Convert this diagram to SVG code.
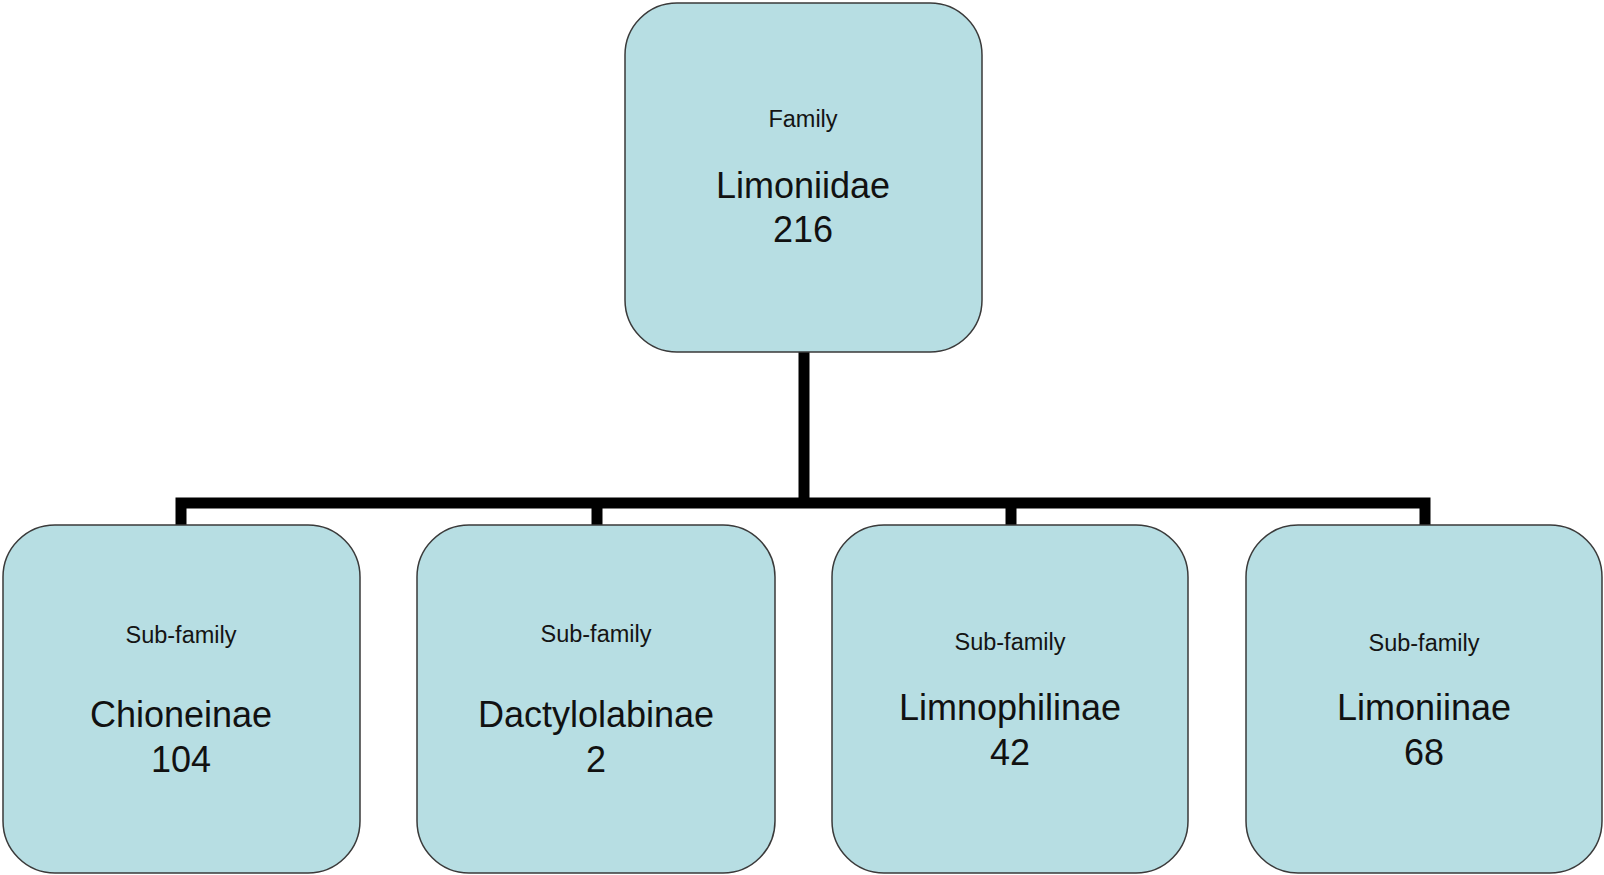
<svg xmlns="http://www.w3.org/2000/svg" width="1604" height="875" viewBox="0 0 1604 875">
<style>
.box{fill:#b7dee3;stroke:#3a3a3a;stroke-width:1.5}
.small{font-family:"Liberation Sans",Arial,sans-serif;font-size:23.5px;fill:#141414;text-anchor:middle}
.big{font-family:"Liberation Sans",Arial,sans-serif;font-size:36px;fill:#111;text-anchor:middle}
.conn{fill:none;stroke:#000;stroke-width:11;stroke-linejoin:miter;stroke-linecap:butt}
</style>
<rect width="1604" height="875" fill="#fff"/>
<g id="connectors">
<path class="conn" d="M804 352 V503"/>
<path class="conn" d="M181 525 V503 H1425 V525"/>
<path class="conn" d="M597 503 V525"/>
<path class="conn" d="M1011 503 V525"/>
</g>
<g id="family">
<rect class="box" x="625" y="3" width="357" height="349" rx="52" ry="52"/>
<text class="small" x="803" y="127">Family</text>
<text class="big" x="803" y="198">Limoniidae</text>
<text class="big" x="803" y="242">216</text>
</g>
<g id="chioneinae">
<rect class="box" x="3" y="525" width="357" height="348" rx="52" ry="52"/>
<text class="small" x="181" y="643">Sub-family</text>
<text class="big" x="181" y="727">Chioneinae</text>
<text class="big" x="181" y="772">104</text>
</g>
<g id="dactylolabinae">
<rect class="box" x="417" y="525" width="358" height="348" rx="52" ry="52"/>
<text class="small" x="596" y="642">Sub-family</text>
<text class="big" x="596" y="727">Dactylolabinae</text>
<text class="big" x="596" y="772">2</text>
</g>
<g id="limnophilinae">
<rect class="box" x="832" y="525" width="356" height="348" rx="52" ry="52"/>
<text class="small" x="1010" y="650">Sub-family</text>
<text class="big" x="1010" y="720">Limnophilinae</text>
<text class="big" x="1010" y="765">42</text>
</g>
<g id="limoniinae">
<rect class="box" x="1246" y="525" width="356" height="348" rx="52" ry="52"/>
<text class="small" x="1424" y="651">Sub-family</text>
<text class="big" x="1424" y="720">Limoniinae</text>
<text class="big" x="1424" y="765">68</text>
</g>
</svg>
